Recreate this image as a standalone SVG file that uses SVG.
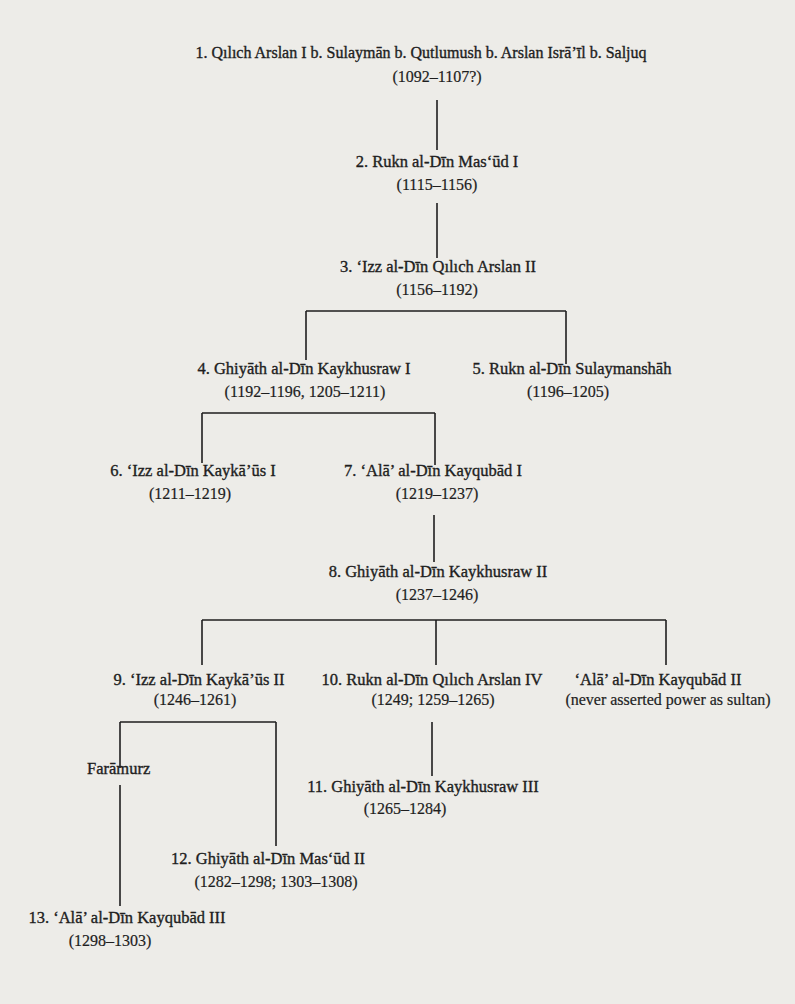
<svg xmlns="http://www.w3.org/2000/svg" width="795" height="1004" viewBox="0 0 795 1004">
<style>
text{font-family:"Liberation Serif","Times New Roman",serif;font-size:16px;fill:#1e1e1e;stroke:#1e1e1e;stroke-width:0.2;text-anchor:middle}
.n{font-size:16.5px;stroke-width:0.35}
.l{text-anchor:start}
#connectors line{stroke:#1e1e1e;stroke-width:1.6;fill:none}
</style>
<rect width="795" height="1004" fill="#edece8"/>
<g id="connectors">
<line x1="437" y1="100" x2="437" y2="150"/>
<line x1="437" y1="203" x2="437" y2="258"/>
<line x1="306" y1="311" x2="566" y2="311"/>
<line x1="306" y1="311" x2="306" y2="360"/>
<line x1="566" y1="311" x2="566" y2="364"/>
<line x1="202" y1="413" x2="435" y2="413"/>
<line x1="202" y1="413" x2="202" y2="463"/>
<line x1="435" y1="413" x2="435" y2="465"/>
<line x1="434" y1="515" x2="434" y2="562"/>
<line x1="202" y1="620" x2="666" y2="620"/>
<line x1="202" y1="620" x2="202" y2="665"/>
<line x1="436" y1="620" x2="436" y2="665"/>
<line x1="666" y1="620" x2="666" y2="665"/>
<line x1="120" y1="722" x2="276" y2="722"/>
<line x1="120" y1="722" x2="120" y2="768"/>
<line x1="276" y1="722" x2="276" y2="846"/>
<line x1="432" y1="722" x2="432" y2="776"/>
<line x1="120" y1="785" x2="120" y2="906"/>
</g>
<g id="n1"><text class="n" x="421" y="58" style="font-size:16px">1. Qılıch Arslan I b. Sulaymān b. Qutlumush b. Arslan Isrā’īl b. Saljuq</text><text x="437" y="82">(1092–1107?)</text></g>
<g id="n2"><text class="n" x="437" y="167">2. Rukn al-Dīn Mas‘ūd I</text><text x="437" y="190">(1115–1156)</text></g>
<g id="n3"><text class="n" x="438" y="272">3. ‘Izz al-Dīn Qılıch Arslan II</text><text x="437" y="295">(1156–1192)</text></g>
<g id="n4"><text class="n" x="304" y="374">4. Ghiyāth al-Dīn Kaykhusraw I</text><text x="305" y="397">(1192–1196, 1205–1211)</text></g>
<g id="n5"><text class="n" x="572" y="374">5. Rukn al-Dīn Sulaymanshāh</text><text x="568" y="397">(1196–1205)</text></g>
<g id="n6"><text class="n" x="193" y="476">6. ‘Izz al-Dīn Kaykā’ūs I</text><text x="190" y="499">(1211–1219)</text></g>
<g id="n7"><text class="n" x="433" y="476">7. ‘Alā’ al-Dīn Kayqubād I</text><text x="437" y="499">(1219–1237)</text></g>
<g id="n8"><text class="n" x="438" y="577">8. Ghiyāth al-Dīn Kaykhusraw II</text><text x="437" y="600">(1237–1246)</text></g>
<g id="n9"><text class="n" x="199" y="685">9. ‘Izz al-Dīn Kaykā’ūs II</text><text x="195" y="705">(1246–1261)</text></g>
<g id="n10"><text class="n" x="432" y="685">10. Rukn al-Dīn Qılıch Arslan IV</text><text x="433" y="705">(1249; 1259–1265)</text></g>
<g id="n10b"><text class="n" x="658" y="685">‘Alā’ al-Dīn Kayqubād II</text><text x="668" y="705">(never asserted power as sultan)</text></g>
<g id="faramurz"><text class="n l" x="87" y="774">Farāmurz</text></g>
<g id="n11"><text class="n" x="423" y="792">11. Ghiyāth al-Dīn  Kaykhusraw III</text><text x="405" y="814">(1265–1284)</text></g>
<g id="n12"><text class="n" x="268" y="864">12. Ghiyāth al-Dīn Mas‘ūd II</text><text x="276" y="887">(1282–1298; 1303–1308)</text></g>
<g id="n13"><text class="n" x="127" y="923">13. ‘Alā’ al-Dīn  Kayqubād III</text><text x="110" y="946">(1298–1303)</text></g>
</svg>
